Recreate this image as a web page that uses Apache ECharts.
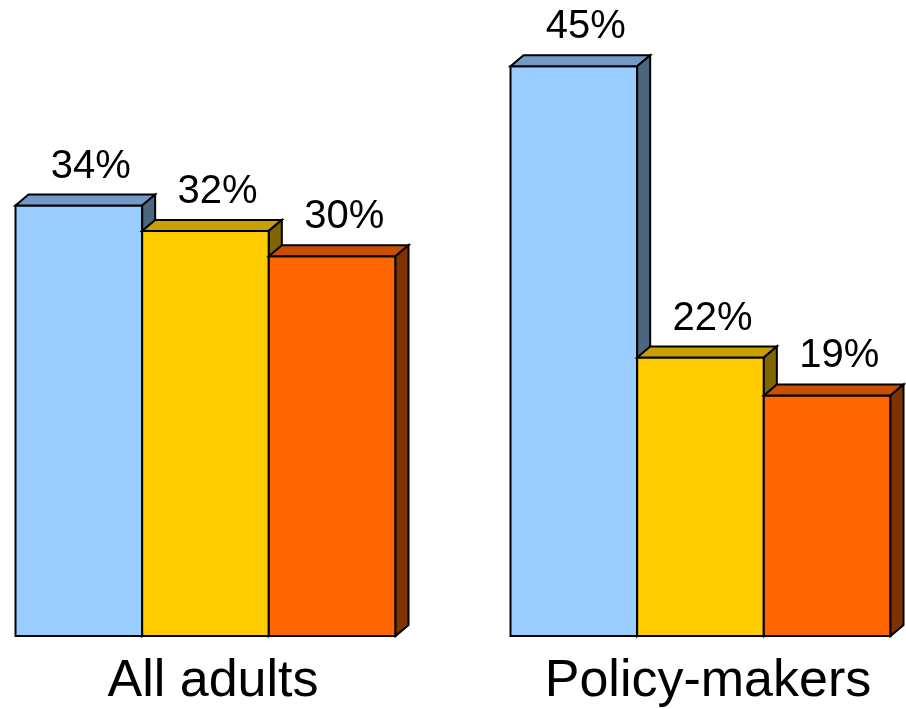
<!DOCTYPE html>
<html>
<head>
<meta charset="utf-8">
<script src="https://cdn.jsdelivr.net/npm/echarts@6/dist/echarts.min.js"></script>
<style>
html,body{margin:0;padding:0;background:#fff;}
#chart{width:906px;height:709px;}
</style>
</head>
<body>
<div id="chart"></div>
<script>
const categories = ['All adults', 'Policy-makers'];
const blueValues = [34, 45];
const yellowValues = [32, 22];
const orangeValues = [30, 19];

const palettes = [
  { front: '#99CCFF', top: '#7399C8', side: '#4D6680' },
  { front: '#FFCC00', top: '#C8A000', side: '#806600' },
  { front: '#FF6600', top: '#C85000', side: '#803300' }
];
const DX = 13, DY = 11;
const FONT = 'Liberation Sans, Arial, sans-serif';

function makeRender(idx) {
  const pal = palettes[idx];
  return function (params, api) {
    const cat = api.value(0);
    const val = api.value(1);
    const base = api.coord([cat, 0]);
    const top = api.coord([cat, val]);
    const unitW = api.size([1, 0])[0];
    const W = unitW * 380 / 495 / 3;
    const x = base[0] - (3 * W + DX) / 2 + idx * W;
    const yB = base[1], yT = top[1];
    const stroke = { stroke: '#000', lineWidth: 2, lineJoin: 'miter' };
    const children = [
      { type: 'rect', shape: { x: x, y: yT, width: W, height: yB - yT },
        style: Object.assign({ fill: pal.front }, stroke) },
      { type: 'polygon', shape: { points: [[x, yT], [x + DX, yT - DY], [x + W + DX, yT - DY], [x + W, yT]] },
        style: Object.assign({ fill: pal.top }, stroke) },
      { type: 'polygon', shape: { points: [[x + W, yT], [x + W + DX, yT - DY], [x + W + DX, yB - DY], [x + W, yB]] },
        style: Object.assign({ fill: pal.side }, stroke) },
      { type: 'text', x: x + W / 2 + 12, y: yT - DY - 8,
        style: { text: val + '%', fill: '#000', fontSize: 40, fontFamily: FONT,
                 align: 'center', verticalAlign: 'bottom' } }
    ];
    if (idx === 0) {
      children.push({ type: 'text', x: base[0] + 1, y: yB + 46,
        style: { text: categories[cat], fill: '#000', fontSize: 52, fontFamily: FONT,
                 align: 'center', verticalAlign: 'middle' } });
    }
    return { type: 'group', children: children };
  };
}

function seriesData(vals) { return vals.map((v, i) => [i, v]); }

const chart = echarts.init(document.getElementById('chart'));
chart.setOption({
  animation: false,
  backgroundColor: '#fff',
  grid: { left: 0, right: 0, top: 3, bottom: 73, containLabel: false },
  xAxis: { type: 'value', min: -0.4283, max: 1.4020, show: false },
  yAxis: { type: 'value', min: 0, max: 50, show: false },
  series: [
    { type: 'custom', renderItem: makeRender(0), data: seriesData(blueValues), clip: false },
    { type: 'custom', renderItem: makeRender(1), data: seriesData(yellowValues), clip: false },
    { type: 'custom', renderItem: makeRender(2), data: seriesData(orangeValues), clip: false }
  ]
});
</script>
</body>
</html>
